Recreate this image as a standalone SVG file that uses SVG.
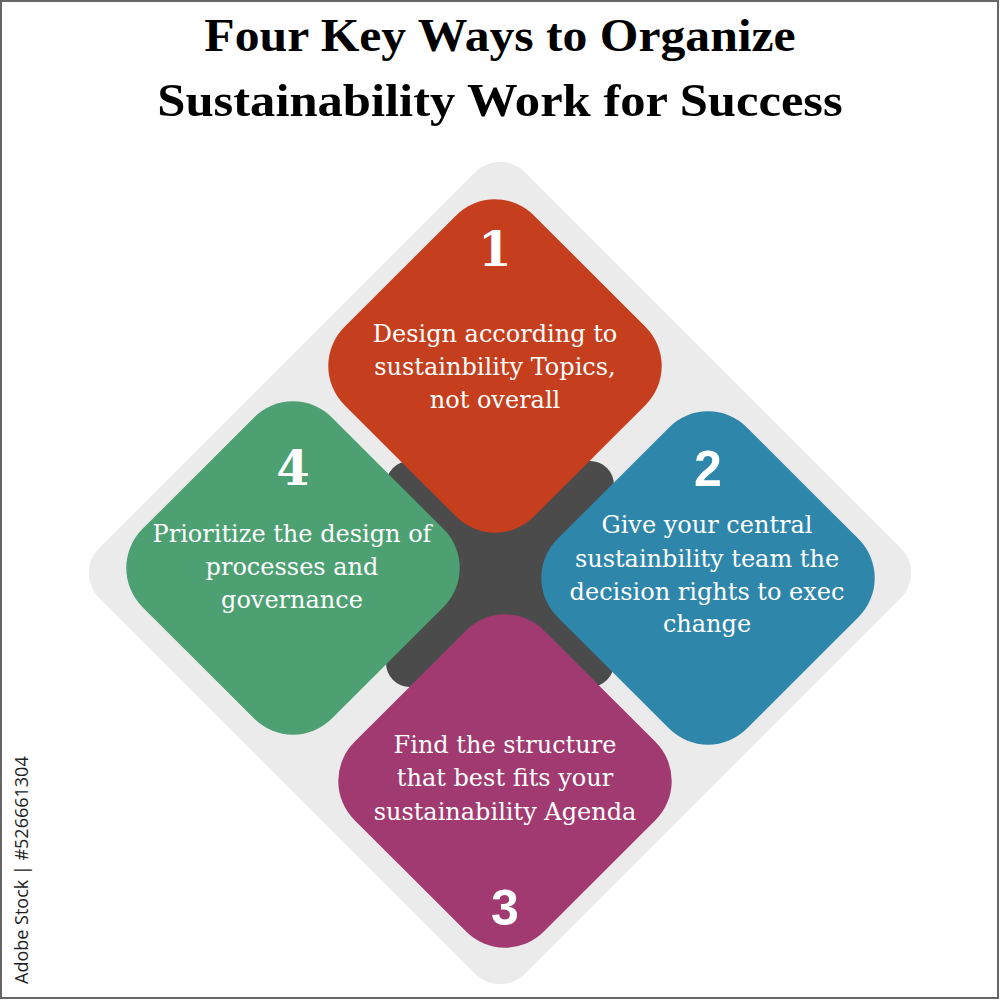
<svg xmlns="http://www.w3.org/2000/svg" width="1000" height="1000" viewBox="0 0 1000 1000">
  <defs>
    <rect id="petal" x="-134" y="-134" width="268" height="268" rx="55" ry="55"/>
  </defs>
  <style>
    .title { font-family: "Liberation Serif", "DejaVu Serif", serif; font-weight: bold; font-size: 46px; fill: #000; }
    .body { font-family: "DejaVu Serif", "Liberation Serif", serif; font-size: 24px; fill: #fff; text-anchor: middle; }
    .numS { font-family: "DejaVu Serif", serif; font-weight: bold; font-size: 48px; fill: #fff; text-anchor: middle; }
    .numA { font-family: "Liberation Sans", "DejaVu Sans", sans-serif; font-weight: bold; font-size: 50px; fill: #fff; text-anchor: middle; }
    .wm { font-family: "Open Sans", "DejaVu Sans", sans-serif; font-size: 18px; fill: #222; }
  </style>
  <rect x="1" y="1" width="997" height="997" fill="#fff" stroke="#666" stroke-width="2"/>

  <g id="title">
    <g transform="translate(500,51) scale(1.08,1)"><text class="title" x="0" y="0" text-anchor="middle">Four Key Ways to Organize</text></g>
    <g transform="translate(500,116) scale(1.1,1)"><text class="title" x="0" y="0" text-anchor="middle">Sustainability Work for Success</text></g>
  </g>

  <g id="background">
    <rect x="-301" y="-301" width="602" height="602" rx="35" ry="35" fill="#EBEBEB" transform="translate(500,573) rotate(45)"/>
    <rect x="386" y="461" width="228" height="226" rx="24" ry="24" fill="#4B4B4B"/>
  </g>

  <g id="node1">
    <use href="#petal" fill="#C53E1D" transform="translate(495,366) rotate(45)"/>
    <text class="numS" x="495" y="266">1</text>
    <text class="body" x="495" y="342">Design according to</text>
    <text class="body" x="495" y="375">sustainbility Topics,</text>
    <text class="body" x="495" y="408">not overall</text>
  </g>

  <g id="node2">
    <use href="#petal" fill="#2E86AB" transform="translate(708,578) rotate(45)"/>
    <text class="numA" x="708" y="486">2</text>
    <text class="body" x="707" y="533">Give your central</text>
    <text class="body" x="707" y="567">sustainbility team the</text>
    <text class="body" x="707" y="600">decision rights to exec</text>
    <text class="body" x="707" y="632">change</text>
  </g>

  <g id="node3">
    <use href="#petal" fill="#A13A70" transform="translate(505,781) rotate(45)"/>
    <text class="body" x="505" y="753">Find the structure</text>
    <text class="body" x="505" y="786">that best fits your</text>
    <text class="body" x="505" y="820">sustainability Agenda</text>
    <text class="numA" x="505" y="925">3</text>
  </g>

  <g id="node4">
    <use href="#petal" fill="#4DA072" transform="translate(293,568) rotate(45)"/>
    <text class="numS" x="293" y="485">4</text>
    <text class="body" x="292" y="542">Prioritize the design of</text>
    <text class="body" x="292" y="575">processes and</text>
    <text class="body" x="292" y="608">governance</text>
  </g>

  <g id="connectors"></g>

  <text class="wm" transform="translate(28,984) rotate(-90)">Adobe Stock | #526661304</text>
</svg>
